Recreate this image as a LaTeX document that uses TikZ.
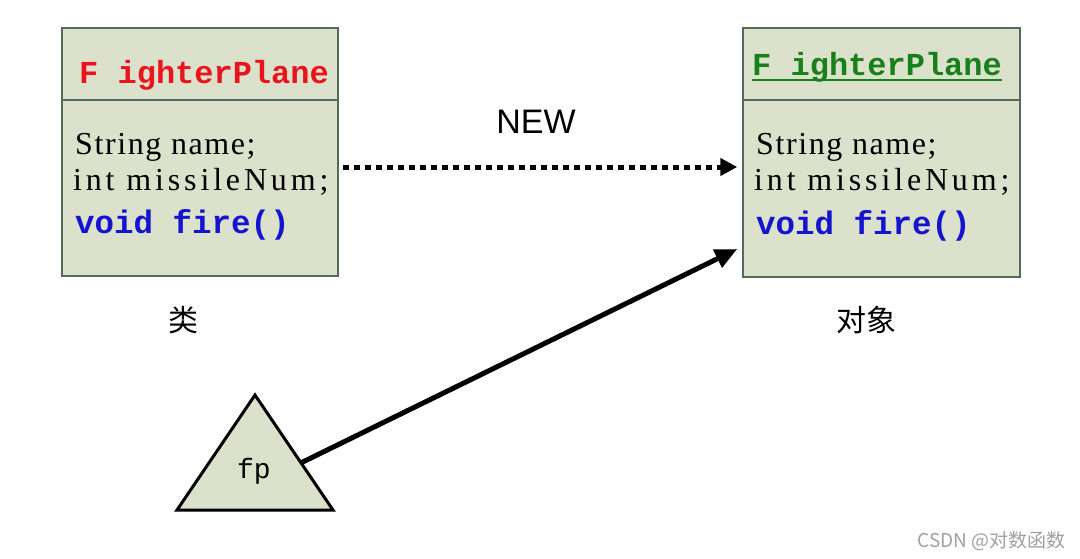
\documentclass[tikz,border=0pt]{standalone}
\usepackage{fontspec}
\usetikzlibrary{arrows.meta,calc}
\setmainfont{Liberation Serif}
\newfontfamily\cjk{Noto Sans CJK SC}
\newfontfamily\monofont{Liberation Mono}
\newfontfamily\fieldA[LetterSpace=5]{Liberation Serif}
\newfontfamily\fieldB[LetterSpace=12]{Liberation Serif}
\newfontfamily\sansfont{Liberation Sans}
\definecolor{boxfill}{HTML}{DCE1CB}
\definecolor{boxline}{HTML}{56695A}
\definecolor{tred}{HTML}{E8141E}
\definecolor{tgreen}{HTML}{17801A}
\definecolor{tblue}{HTML}{1414D0}
\definecolor{wm}{HTML}{A0A0A0}
\tikzset{
  cls/.style={draw=boxline, fill=boxfill, line width=1.5pt, inner sep=0pt},
  divider/.style={draw=boxline, line width=1.5pt},
  txt/.style={inner sep=0pt, anchor=base west},
  titlefont/.style={font=\monofont\bfseries\fontsize{32}{36}\selectfont},
  fieldfontA/.style={font=\fieldA\fontsize{32}{36}\selectfont},
  fieldfontB/.style={font=\fieldB\fontsize{32}{36}\selectfont},
  methodfont/.style={font=\monofont\bfseries\fontsize{32.5}{36}\selectfont, text=tblue},
  dotarrow/.style={line width=5pt, dash pattern=on 6pt off 5pt, -{Triangle[length=17pt,width=17pt]}},
  solidarrow/.style={line width=5pt, -{Triangle[length=22pt,width=19pt]}},
  tri/.style={draw=black, fill=boxfill, line width=3pt, line join=miter},
  captxt/.style={font=\cjk\fontsize{30}{34}\selectfont, inner sep=0pt}
}
\begin{document}
\begin{tikzpicture}[x=1pt,y=-1pt]
\useasboundingbox (0,0) rectangle (1080,558);
\fill[white] (0,0) rectangle (1080,558);
% class box
\node[cls, minimum width=276pt, minimum height=248pt] (L) at (200,152) {};
\draw[divider] (L.west |- 0,100) -- (L.east |- 0,100);
\node[txt, titlefont, text=tred] (Lt) at (79,83) {F ighterPlane};
\node[txt, fieldfontA] (Lf1) at (75,154) {String name;};
\node[txt, fieldfontB] (Lf2) at (73,190) {int missileNum;};
\node[txt, methodfont] (Lm) at (75,233) {void fire()};
% object box
\node[cls, minimum width=277pt, minimum height=249pt] (R) at (881.5,152.5) {};
\draw[divider] (R.west |- 0,100) -- (R.east |- 0,100);
\node[txt, titlefont, text=tgreen] (Rt) at (752,75) {F ighterPlane};
\draw[tgreen, line width=1.5pt] ([yshift=-5pt]Rt.base west) -- ([yshift=-5pt]Rt.base east);
\node[txt, fieldfontA] (Rf1) at (756,154) {String name;};
\node[txt, fieldfontB] (Rf2) at (754,190) {int missileNum;};
\node[txt, methodfont] (Rm) at (756,234) {void fire()};
% captions
\node[captxt] (c1) at (183,320) {类};
\node[captxt] (c2) at (866,320) {对象};
\node[font=\sansfont\fontsize{34}{40}\selectfont, inner sep=0pt] (new) at (536,122) {NEW};
% dotted arrow
\draw[dotarrow] ([xshift=4pt,yshift=-15pt]L.east) -- ([xshift=-5pt,yshift=-14.5pt]R.west);
% reference triangle
\draw[tri] (255,395) coordinate (Ttop) -- (333,510) coordinate (Tr) -- (177,510) coordinate (Tl) -- cycle;
\node[font=\monofont\fontsize{28}{30}\selectfont, inner sep=0pt] (fp) at (254,471) {fp};
\coordinate (Ts) at ($(Ttop)!0.59!(Tr)$);
\draw[solidarrow] (Ts) -- ([xshift=-5pt,yshift=-96.5pt]R.west);
% watermark
\node[font=\cjk\fontsize{19}{22}\selectfont, text=wm, inner sep=0pt, anchor=base east] (wmk) at (1066,547) {CSDN @对数函数};
\end{tikzpicture}
\end{document}
